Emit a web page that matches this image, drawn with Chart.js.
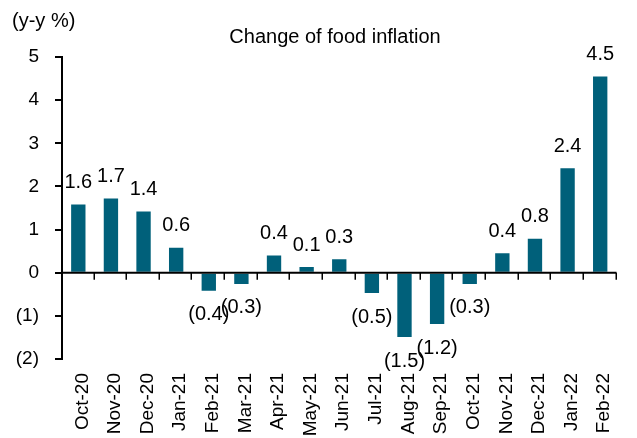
<!DOCTYPE html>
<html>
<head>
<meta charset="utf-8">
<script src="https://cdn.jsdelivr.net/npm/chart.js@4/dist/chart.umd.min.js"></script>
<style>
html,body{margin:0;padding:0;background:#fff;}
#wrap{position:relative;width:637px;height:438px;}
</style>
</head>
<body>
<div id="wrap"><canvas id="c" width="637" height="438"></canvas></div>
<script>
const categories = ["Oct-20","Nov-20","Dec-20","Jan-21","Feb-21","Mar-21","Apr-21","May-21","Jun-21","Jul-21","Aug-21","Sep-21","Oct-21","Nov-21","Dec-21","Jan-22","Feb-22"];
const foodInflation = [1.58, 1.72, 1.42, 0.58, -0.42, -0.26, 0.40, 0.13, 0.31, -0.47, -1.49, -1.19, -0.26, 0.45, 0.79, 2.42, 4.55];
const valueLabels = ["1.6","1.7","1.4","0.6","(0.4)","(0.3)","0.4","0.1","0.3","(0.5)","(1.5)","(1.2)","(0.3)","0.4","0.8","2.4","4.5"];
const yTicks = [5, 4, 3, 2, 1, 0, -1, -2];
const chartTitle = "Change of food inflation";
const unitLabel = "(y-y %)";

const FONT = "'Liberation Sans', Arial, sans-serif";
const BAR = "#00607A";

const fmt = v => v < 0 ? "(" + (-v) + ")" : String(v);

const overlay = {
  id: "overlay",
  afterDatasetsDraw(chart) {
    const ctx = chart.ctx;
    const ca = chart.chartArea;
    const y = chart.scales.y;
    const y0 = y.getPixelForValue(0);
    ctx.save();
    // zero axis line
    ctx.strokeStyle = "#000";
    ctx.lineWidth = 2;
    ctx.beginPath();
    ctx.moveTo(ca.left, y0);
    ctx.lineTo(ca.right, y0);
    ctx.stroke();
    // category boundary tick marks
    const n = categories.length;
    const w = (ca.right - ca.left) / n;
    ctx.lineWidth = 1.5;
    for (let i = 1; i <= n; i++) {
      const bx = Math.round(ca.left + i * w) - 0.75;
      ctx.beginPath();
      ctx.moveTo(bx, y0);
      ctx.lineTo(bx, y0 + 7);
      ctx.stroke();
    }
    // value labels
    ctx.fillStyle = "#000";
    ctx.font = "20px " + FONT;
    ctx.textAlign = "center";
    ctx.textBaseline = "middle";
    const meta = chart.getDatasetMeta(0);
    meta.data.forEach((bar, i) => {
      const v = foodInflation[i];
      const yy = v >= 0 ? bar.y - 22 : bar.y + 24;
      ctx.fillText(valueLabels[i], bar.x, yy);
    });
    // title and unit
    ctx.font = "20px " + FONT;
    ctx.textAlign = "center";
    ctx.fillText(chartTitle, 335, 37);
    ctx.textAlign = "left";
    ctx.fillText(unitLabel, 12, 21);
    ctx.restore();
  }
};

new Chart(document.getElementById("c"), {
  type: "bar",
  data: {
    labels: categories,
    datasets: [{
      data: foodInflation,
      backgroundColor: BAR,
      borderWidth: 0,
      barPercentage: 0.44,
      categoryPercentage: 1.0
    }]
  },
  options: {
    responsive: false,
    animation: false,
    events: [],
    layout: { padding: { top: 57, right: 0, left: 0, bottom: 0 } },
    plugins: { legend: { display: false }, tooltip: { enabled: false }, title: { display: false } },
    scales: {
      x: {
        grid: { display: false, drawTicks: false },
        border: { display: false },
        ticks: {
          color: "#000",
          font: { family: FONT, size: 19 },
          minRotation: 90, maxRotation: 90,
          padding: 14,
          labelOffset: 4,
          autoSkip: false
        },
        afterFit(s) { s.height = 79; }
      },
      y: {
        min: -2, max: 5,
        afterBuildTicks(s) { s.ticks = yTicks.map(v => ({ value: v })); },
        grid: { drawOnChartArea: false, drawTicks: true, tickLength: 7, color: "#000", lineWidth: 2 },
        border: { display: true, color: "#000", width: 2 },
        ticks: {
          color: "#000",
          font: { family: FONT, size: 19 },
          padding: 16,
          callback: v => fmt(v)
        },
        afterFit(s) { s.width = 62; }
      }
    }
  },
  plugins: [overlay]
});
</script>
</body>
</html>
